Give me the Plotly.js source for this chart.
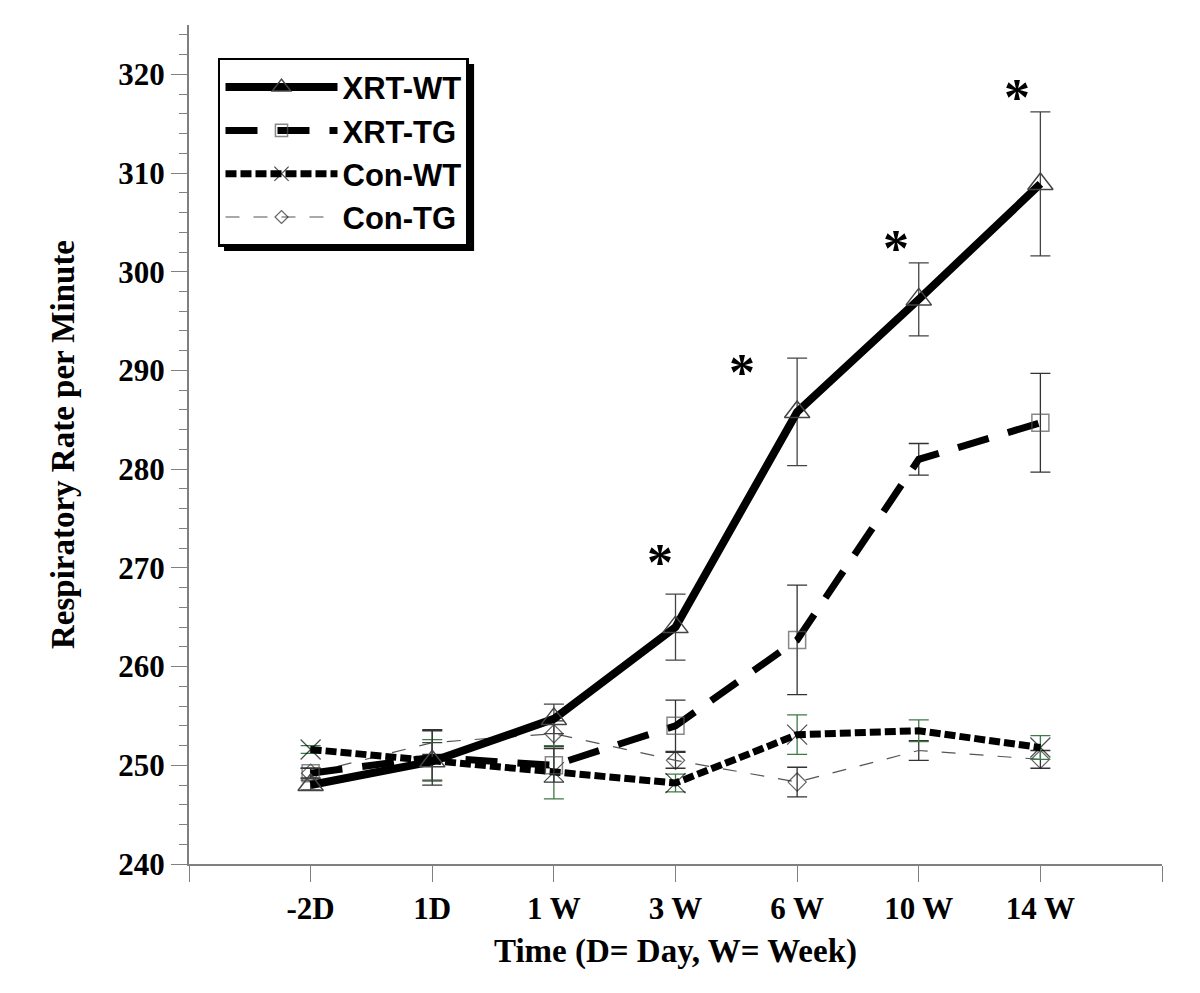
<!DOCTYPE html>
<html>
<head>
<meta charset="utf-8">
<script src="https://cdn.plot.ly/plotly-3.0.1.min.js"></script>
<style>
  html, body { margin: 0; padding: 0; background: #ffffff; }
  #chart { width: 1200px; height: 993px; }
</style>
</head>
<body>
<div id="chart"></div>
<script>
// ---- data ----
const categories = ['-2D', '1D', '1 W', '3 W', '6 W', '10 W', '14 W'];
const timeIndex = [0, 1, 2, 3, 4, 5, 6];

const xrtWT = [248.0, 250.4, 254.7, 264.0, 285.8, 297.2, 308.9];
const xrtWTErr = [0.5, 1.9, 1.5, 3.35, 5.45, 3.7, 7.3];

const xrtTG = [249.2, 250.8, 250.0, 254.0, 262.7, 281.0, 284.7];
const xrtTGErr = [0.5, 2.8, 1.7, 2.6, 5.55, 1.6, 5.0];

const conWT = [251.6, 250.5, 249.3, 248.2, 253.1, 253.5, 251.8];
const conWTErr = [0.4, 2.1, 2.7, 0.9, 2.0, 1.1, 1.2];

const conTG = [249.2, 252.3, 253.2, 250.5, 248.3, 251.5, 250.6];
const conTGErr = [0.5, 1.2, 1.3, 0.8, 1.5, 1.0, 0.9];

// significance asterisks (positions in data units)
const starX = [2.87, 3.55, 4.81, 5.81];
const starY = [271.6, 290.8, 303.4, 318.7];

// ---- style helpers ----
// indices where a series' marker is hidden in the original figure
const hiddenMarkers = { xrtTG: [1, 5], conWT: [1, 5], conTG: [1, 5] };
function sizes(size, hidden) {
  return timeIndex.map(i => (hidden && hidden.indexOf(i) >= 0) ? 0 : size);
}

const tickVals = [-1].concat(timeIndex, [7]);
const tickText = [''].concat(categories, ['']);

const serif = 'Liberation Serif, Times New Roman, serif';

const traces = [
  {
    name: 'Con-TG', x: timeIndex, y: conTG, mode: 'lines+markers', type: 'scatter',
    line: { color: '#555555', width: 1.2, dash: '14px,14px' },
    marker: { symbol: 'diamond-open', size: sizes(14, hiddenMarkers.conTG), color: '#222222', line: { width: 1.2, color: '#222222' } },
    error_y: { type: 'data', array: conTGErr, visible: true, color: '#333333', thickness: 1.3, width: 10 },
    legendrank: 4
  },
  {
    name: 'Con-WT', x: timeIndex, y: conWT, mode: 'lines+markers', type: 'scatter',
    line: { color: '#000000', width: 7, dash: '11px,4px' },
    marker: { symbol: 'x-thin-open', size: sizes(20, hiddenMarkers.conWT), color: '#000000', line: { width: 1.2, color: '#000000' } },
    error_y: { type: 'data', array: conWTErr, visible: true, color: '#3c7a46', thickness: 1.3, width: 10 },
    legendrank: 3
  },
  {
    name: 'XRT-TG', x: timeIndex, y: xrtTG, mode: 'lines+markers', type: 'scatter',
    line: { color: '#000000', width: 7, dash: '32px,20px' },
    marker: { symbol: 'square-open', size: sizes(17, hiddenMarkers.xrtTG), color: '#555555', line: { width: 1.5, color: '#555555' } },
    error_y: { type: 'data', array: xrtTGErr, visible: true, color: '#333333', thickness: 1.3, width: 10 },
    legendrank: 2
  },
  {
    name: 'XRT-WT', x: timeIndex, y: xrtWT, mode: 'lines+markers', type: 'scatter',
    line: { color: '#000000', width: 8 },
    marker: { symbol: 'triangle-up-open', size: 22, color: '#444444', line: { width: 1.5, color: '#444444' } },
    error_y: { type: 'data', array: xrtWTErr, visible: true, color: '#444444', thickness: 1.3, width: 10 },
    legendrank: 1
  }
];

const annotations = starX.map((sx, i) => ({
  x: sx, y: starY[i], xref: 'x', yref: 'y', text: '*', showarrow: false,
  font: { family: serif, size: 52, color: '#000000', weight: 'bold' },
  yshift: -10
}));

const layout = {
  width: 1200, height: 993,
  margin: { l: 189, r: 38, t: 25, b: 129 },
  paper_bgcolor: '#ffffff', plot_bgcolor: '#ffffff',
  showlegend: true,
  legend: {
    x: 0.0298, y: 0.9607, xanchor: 'left', yanchor: 'top',
    bgcolor: '#ffffff', bordercolor: '#000000', borderwidth: 2.5,
    font: { family: 'Liberation Sans, Arial, sans-serif', size: 31, color: '#000000', weight: 'bold' },
    itemwidth: 112, tracegroupgap: 0
  },
  xaxis: {
    range: [-1, 7], tickmode: 'array', tickvals: tickVals, ticktext: tickText,
    showgrid: false, zeroline: false, showline: true, linecolor: '#808080', linewidth: 2,
    ticks: 'outside', ticklen: 16, tickcolor: '#808080', tickwidth: 1,
    tickfont: { family: serif, size: 31, color: '#000000', weight: 'bold' },
    title: { text: 'Time (D= Day, W= Week)', standoff: 14,
      font: { family: serif, size: 33, color: '#000000', weight: 'bold' } },
    automargin: false
  },
  yaxis: {
    range: [240, 325], tickmode: 'array', tickvals: [240, 250, 260, 270, 280, 290, 300, 310, 320],
    showgrid: false, zeroline: false, showline: true, linecolor: '#808080', linewidth: 2,
    ticks: 'outside', ticklen: 16, tickcolor: '#808080', tickwidth: 1,
    minor: { dtick: 2, tick0: 240, ticks: 'outside', ticklen: 8, tickcolor: '#808080', tickwidth: 1, showgrid: false },
    tickfont: { family: serif, size: 31, color: '#000000', weight: 'bold' },
    title: { text: 'Respiratory Rate per Minute', standoff: 34,
      font: { family: serif, size: 33, color: '#000000', weight: 'bold' } },
    automargin: false
  },
  annotations: annotations,
  shapes: [
    { type: 'rect', xref: 'paper', yref: 'paper', x0: 0.0360, x1: 0.2930, y0: 0.7306, y1: 0.9535,
      fillcolor: '#000000', line: { width: 0 }, layer: 'above' }
  ]
};

Plotly.newPlot('chart', traces, layout, { displayModeBar: false, staticPlot: true });
</script>
</body>
</html>
